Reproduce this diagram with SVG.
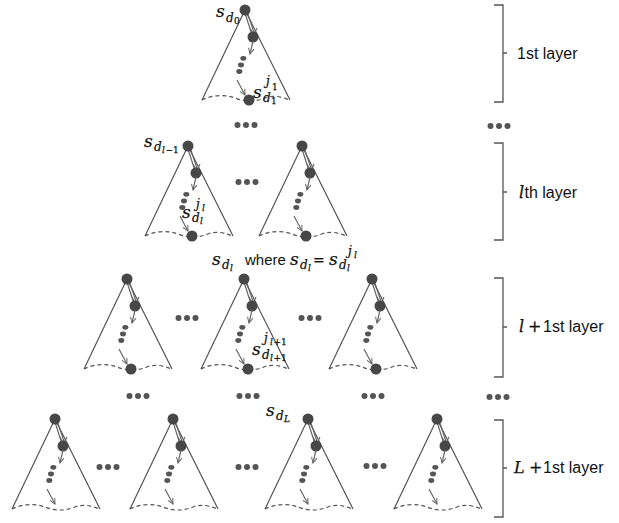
<svg xmlns="http://www.w3.org/2000/svg" xmlns:xlink="http://www.w3.org/1999/xlink" width="619" height="523" viewBox="0 0 619 523">
<style>
.edge{stroke:#555;stroke-width:1.2;fill:none}
.base{stroke:#555;stroke-width:1.2;fill:none;stroke-dasharray:4 3}
.arr{stroke:#666;stroke-width:1.2;fill:none}
.nd{fill:#474747}
.dot{fill:#555}
.br{stroke:#555;stroke-width:1.3;fill:none}
.m{font-family:"DejaVu Serif",serif;font-style:italic;fill:#111;stroke:#111;stroke-width:0.25}
.u{font-style:normal}
.a{font-size:17px}
.b{font-size:12px}
.c{font-size:9px}
.t{font-family:"Liberation Sans",Arial,sans-serif;fill:#111}
</style>
<defs>
<marker id="oa" viewBox="0 0 10 10" refX="9" refY="5" markerWidth="7" markerHeight="7" markerUnits="userSpaceOnUse" orient="auto">
<path d="M1,1 L9,5 L1,9" fill="none" stroke="#666" stroke-width="1.4"/>
</marker>
<g id="tree">
<path class="edge" d="M0,0 L-43,90 M0,0 L45,90"/>
<path class="base" d="M-43,90 C-33,85 -20,84 -10,88 S10,92 20,88 S38,88 45,90"/>
<path class="arr" d="M0,3 L7,25 M2.4,2.4 L9.6,24.4 M5,18 L8.5,25 L12,18"/>
<circle class="nd" cx="0" cy="0" r="5.5"/>
<circle class="nd" cx="8" cy="27" r="5.5"/>
<path class="arr" d="M8,31 L5,44" marker-end="url(#oa)"/>
<ellipse class="dot" cx="-1.7" cy="48.3" rx="3" ry="2.4"/>
<ellipse class="dot" cx="-4" cy="55" rx="3" ry="2.4"/>
<ellipse class="dot" cx="-5.7" cy="61.5" rx="3" ry="2.4"/>
<path class="arr" d="M-8,70 L0,85" marker-end="url(#oa)"/>
</g>
<circle id="leaf" class="nd" cx="4" cy="90" r="5.5"/>
<g id="ell"><circle class="dot" cx="-8.5" cy="0" r="3"/><circle class="dot" cx="0" cy="0" r="3"/><circle class="dot" cx="8.5" cy="0" r="3"/></g>
</defs>

<g id="connectors">
<use href="#ell" x="246" y="125"/>
<use href="#ell" x="499" y="126"/>
<use href="#ell" x="247" y="182"/>
<use href="#ell" x="187" y="318"/>
<use href="#ell" x="310" y="318"/>
<use href="#ell" x="138" y="396"/>
<use href="#ell" x="248" y="396"/>
<use href="#ell" x="373" y="396"/>
<use href="#ell" x="498" y="397"/>
<use href="#ell" x="108" y="467"/>
<use href="#ell" x="247" y="467"/>
<use href="#ell" x="375" y="466"/>
</g>

<g id="tree-1" transform="translate(245,10)"><use href="#tree"/><use href="#leaf"/></g>
<g id="tree-l-a" transform="translate(188,146)"><use href="#tree"/><use href="#leaf"/></g>
<g id="tree-l-b" transform="translate(302,146)"><use href="#tree"/><use href="#leaf"/></g>
<g id="tree-l1-a" transform="translate(127,279)"><use href="#tree"/><use href="#leaf"/></g>
<g id="tree-l1-b" transform="translate(244,279)"><use href="#tree"/><use href="#leaf"/></g>
<g id="tree-l1-c" transform="translate(372,279)"><use href="#tree"/><use href="#leaf"/></g>
<g id="tree-L-a" transform="translate(55,419)"><use href="#tree"/></g>
<g id="tree-L-b" transform="translate(173,419)"><use href="#tree"/></g>
<g id="tree-L-c" transform="translate(308,419)"><use href="#tree"/></g>
<g id="tree-L-d" transform="translate(437,419)"><use href="#tree"/></g>

<g id="labels">
<text class="m"><tspan class="a" x="216" y="17">s</tspan><tspan class="b" x="226" y="22">d</tspan><tspan class="c u" x="234" y="24">0</tspan></text>
<text class="m"><tspan class="a" x="253" y="98">s</tspan><tspan class="b" x="263" y="102">d</tspan><tspan class="c u" x="271" y="104">1</tspan><tspan class="b" x="266" y="85">j</tspan><tspan class="c u" x="272" y="90">1</tspan></text>
<text class="m"><tspan class="a" x="144" y="147">s</tspan><tspan class="b" x="154" y="151">d</tspan><tspan class="c" x="162" y="153">l</tspan><tspan class="c u" x="165.5" y="153">−1</tspan></text>
<text class="m"><tspan class="a" x="182" y="218">s</tspan><tspan class="b" x="192" y="222">d</tspan><tspan class="c" x="200" y="224">l</tspan><tspan class="b" x="196" y="208">j</tspan><tspan class="c" x="202" y="211">l</tspan></text>
<text class="m"><tspan class="a" x="212" y="265">s</tspan><tspan class="b" x="222" y="269">d</tspan><tspan class="c" x="230" y="271">l</tspan></text>
<text class="t" x="245" y="265" font-size="15">where</text>
<text class="m"><tspan class="a" x="290" y="265">s</tspan><tspan class="b" x="300" y="269">d</tspan><tspan class="c" x="308" y="271">l</tspan><tspan class="u" font-size="14" x="313" y="265">=</tspan><tspan class="a" x="329" y="265">s</tspan><tspan class="b" x="339" y="269">d</tspan><tspan class="c" x="347" y="271">l</tspan><tspan class="b" x="348" y="255">j</tspan><tspan class="c" x="354" y="258">l</tspan></text>
<text class="m"><tspan class="b" x="264" y="342">j</tspan><tspan class="c" x="270" y="345">l</tspan><tspan class="c u" x="273.5" y="345">+1</tspan><tspan class="a" x="252" y="355">s</tspan><tspan class="b" x="262" y="359">d</tspan><tspan class="c" x="270" y="361">l</tspan><tspan class="c u" x="273.5" y="361">+1</tspan></text>
<text class="m"><tspan class="a" x="266" y="416">s</tspan><tspan class="b" x="276" y="420">d</tspan><tspan class="c" x="284" y="422">L</tspan></text>
</g>

<g id="braces">
<path class="br" d="M494,5 L503,5 L503,102 L494,102 M503,53 L507,53"/>
<path class="br" d="M494,143 L503,143 L503,240 L494,240 M503,192 L507,192"/>
<path class="br" d="M494,278 L503,278 L503,377 L494,377 M503,327 L507,327"/>
<path class="br" d="M494,420 L503,420 L503,517 L494,517 M503,468 L507,468"/>
<text class="t" x="517" y="59" font-size="16">1st layer</text>
<text class="t" y="198" font-size="16"><tspan class="m" x="519" stroke-width="0">l</tspan><tspan x="524.5">th layer</tspan></text>
<text class="t" y="332" font-size="16"><tspan class="m" x="519" stroke-width="0">l</tspan><tspan class="m u" x="528" stroke-width="0">+</tspan><tspan x="543">1st layer</tspan></text>
<text class="t" y="473" font-size="16"><tspan class="m" x="514" stroke-width="0">L</tspan><tspan class="m u" x="529" stroke-width="0">+</tspan><tspan x="543">1st layer</tspan></text>
</g>
</svg>
